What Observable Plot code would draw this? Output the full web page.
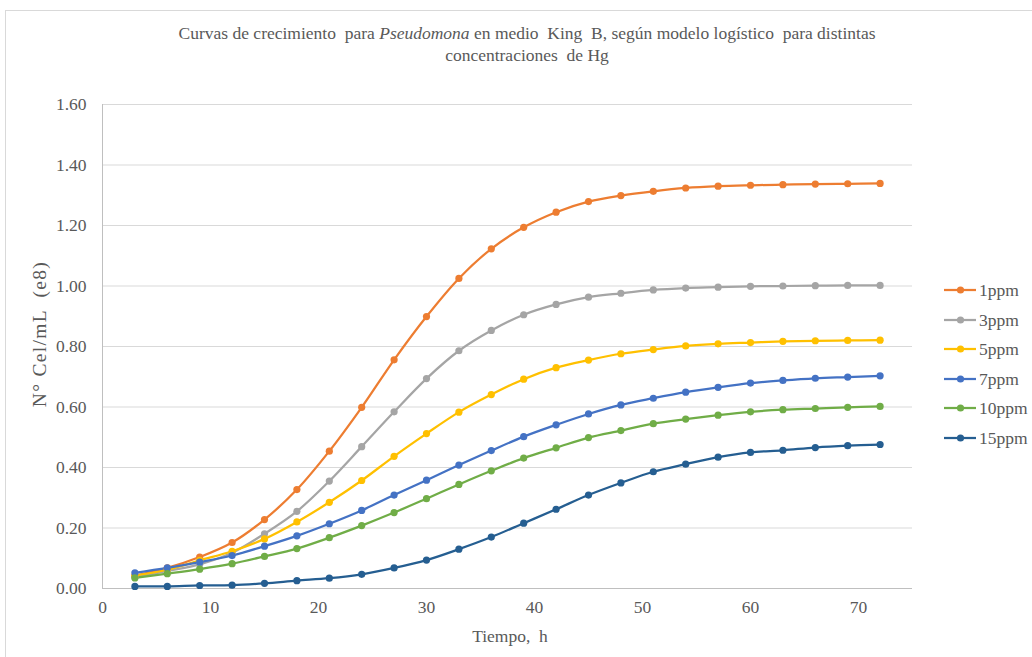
<!DOCTYPE html>
<html><head><meta charset="utf-8">
<script src="https://cdn.jsdelivr.net/npm/d3@7"></script>
<script src="https://cdn.jsdelivr.net/npm/@observablehq/plot@0.6"></script>
<style>
body{margin:0;background:#fff;}
#wrap{position:relative;width:1032px;height:657px;overflow:hidden;font-family:"Liberation Serif","Times New Roman",serif;color:#595959;}
#border{position:absolute;left:5px;top:10px;width:1040px;height:660px;border:1px solid #d9d9d9;box-sizing:border-box;}
.t{position:absolute;white-space:pre;}
#plot{position:absolute;left:0;top:0;}
#plot svg text{font-family:"Liberation Serif","Times New Roman",serif;}
#legend{position:absolute;left:944px;top:280px;}
.li{position:absolute;left:0;height:20px;width:90px;}
.li svg{position:absolute;left:0;top:2px;}
.li span{position:absolute;left:35px;top:0;font-size:17.5px;line-height:20px;}
</style></head>
<body>
<div id="wrap">
  <div id="border"></div>
  <div class="t" style="left:0;width:1054px;top:22px;text-align:center;font-size:17.5px;line-height:22px;">Curvas de crecimiento  para <i>Pseudomona</i> en medio  King  B, según modelo logístico  para distintas
concentraciones  de Hg</div>
  <div id="plot"></div>
  <div class="t" style="left:410px;width:200px;top:625px;text-align:center;font-size:17.5px;line-height:22px;">Tiempo,  h</div>
  <div class="t" style="left:-60px;width:200px;top:323px;text-align:center;font-size:19.5px;letter-spacing:1.3px;line-height:22px;transform:rotate(-90deg);">N° Cel/mL  (e8)</div>
  <div id="legend"></div>
</div>
<script>
const times = [3,6,9,12,15,18,21,24,27,30,33,36,39,42,45,48,51,54,57,60,63,66,69,72];
const seriesNames = ["1ppm","3ppm","5ppm","7ppm","10ppm","15ppm"];
const seriesColors = ["#ED7D31","#A5A5A5","#FFC000","#4472C4","#70AD47","#255E91"];
const v1ppm  = [0.042,0.068,0.104,0.152,0.228,0.327,0.454,0.599,0.756,0.899,1.025,1.123,1.194,1.244,1.279,1.299,1.313,1.324,1.330,1.333,1.335,1.337,1.338,1.339];
const v3ppm  = [0.037,0.058,0.080,0.118,0.181,0.255,0.355,0.469,0.584,0.694,0.786,0.853,0.905,0.939,0.963,0.976,0.987,0.993,0.996,0.999,1.000,1.001,1.002,1.002];
const v5ppm  = [0.043,0.062,0.093,0.123,0.164,0.220,0.285,0.357,0.437,0.512,0.583,0.641,0.692,0.730,0.755,0.776,0.790,0.802,0.809,0.813,0.817,0.819,0.820,0.821];
const v7ppm  = [0.052,0.068,0.087,0.109,0.140,0.174,0.214,0.258,0.309,0.358,0.408,0.456,0.502,0.541,0.577,0.607,0.629,0.649,0.665,0.679,0.688,0.695,0.699,0.703];
const v10ppm = [0.035,0.049,0.064,0.082,0.106,0.132,0.168,0.208,0.251,0.297,0.344,0.389,0.431,0.465,0.499,0.522,0.545,0.560,0.573,0.584,0.591,0.595,0.599,0.602];
const v15ppm = [0.007,0.007,0.010,0.011,0.017,0.026,0.034,0.047,0.068,0.094,0.130,0.170,0.216,0.262,0.309,0.349,0.386,0.411,0.434,0.450,0.457,0.466,0.472,0.476];
const xTicks = [0,10,20,30,40,50,60,70];
const yTicks = [0,0.2,0.4,0.6,0.8,1.0,1.2,1.4,1.6];

const seriesValues = [v1ppm,v3ppm,v5ppm,v7ppm,v10ppm,v15ppm];
const data = [];
seriesNames.forEach((s,i)=>times.forEach((t,j)=>data.push({series:s,t,v:seriesValues[i][j]})));

const chart = Plot.plot({
  width:1032, height:657,
  marginLeft:102, marginRight:120, marginTop:104, marginBottom:69,
  style:{fontFamily:'"Liberation Serif","Times New Roman",serif', fontSize:"17.5px", color:"#595959", background:"transparent"},
  x:{domain:[0,75]},
  y:{domain:[0,1.6]},
  color:{domain:seriesNames, range:seriesColors},
  marks:[
    Plot.gridY(yTicks,{stroke:"#d9d9d9", strokeOpacity:1, strokeWidth:1}),
    Plot.ruleX([0],{stroke:"#bfbfbf", strokeWidth:1}),
    Plot.ruleY([0],{stroke:"#bfbfbf", strokeWidth:1}),
    Plot.axisY({ticks:yTicks, tickSize:0, tickPadding:16, tickFormat:d=>d.toFixed(2), label:null, fill:"#595959"}),
    Plot.axisX({ticks:xTicks, tickSize:0, tickPadding:12, label:null, fill:"#595959"}),
    Plot.line(data,{x:"t", y:"v", z:"series", stroke:"series", curve:"catmull-rom", strokeWidth:2.25}),
    Plot.dot(data,{x:"t", y:"v", fill:"series", r:3.6})
  ]
});
document.getElementById("plot").appendChild(chart);

const legend = document.getElementById("legend");
seriesNames.forEach((s,i)=>{
  const d = document.createElement("div");
  d.className="li";
  d.style.top = (i*29.6)+"px";
  d.innerHTML = `<svg width="32" height="16"><line x1="0" y1="8" x2="32" y2="8" stroke="${seriesColors[i]}" stroke-width="2.25"/><circle cx="16.5" cy="8" r="3.6" fill="${seriesColors[i]}"/></svg><span>${s}</span>`;
  legend.appendChild(d);
});
</script>
</body></html>
